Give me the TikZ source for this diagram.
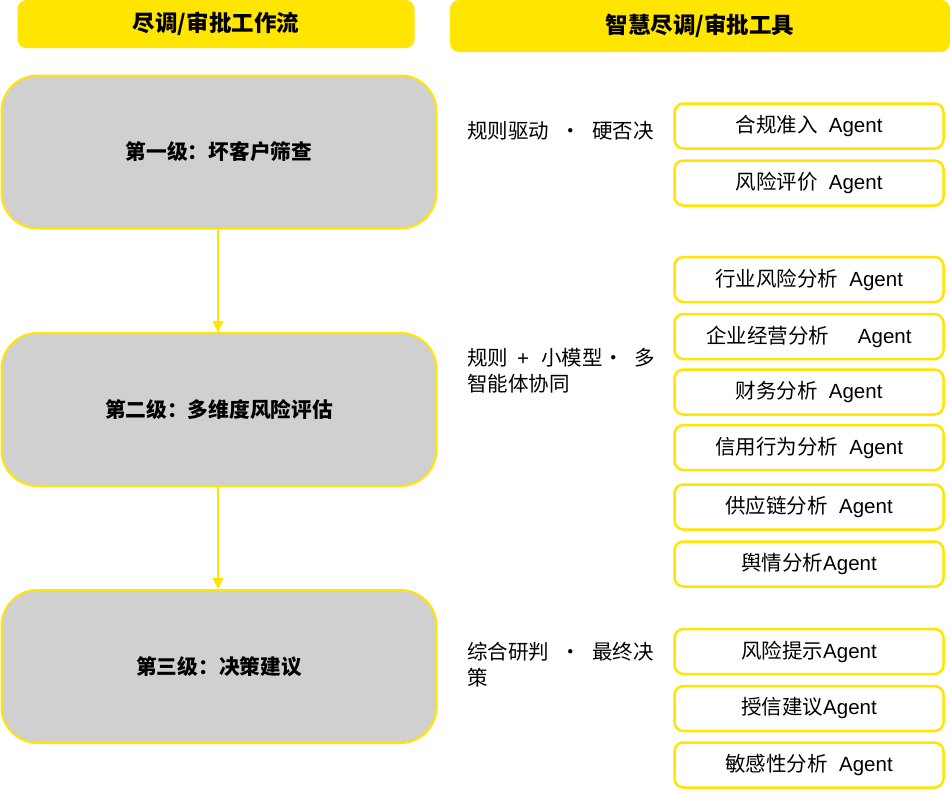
\documentclass[tikz,border=0pt]{standalone}
\usepackage{fontspec}
\setmainfont{Liberation Sans}
\newfontfamily\cjk{Noto Sans CJK SC}
\newfontfamily\latfont{Liberation Sans}
\usetikzlibrary{arrows.meta}
\definecolor{ey}{HTML}{FFE500}
\definecolor{lg}{HTML}{D0D0D0}
\newcommand\lat[1]{{\latfont #1}}
\newcommand\mdot{\makebox[6pt]{\cjk ·}}
\tikzset{
  header/.style={fill=ey, draw=none, rounded corners=9pt, inner sep=0pt, font=\cjk\bfseries\fontsize{22.5}{26}\selectfont},
  levelbox/.style={fill=lg, draw=ey, line width=2pt, rounded corners=36pt, minimum width=435pt, minimum height=153pt, inner sep=0pt, font=\cjk\bfseries\fontsize{20.7}{24}\selectfont},
  agentbox/.style={fill=white, draw=ey, line width=2.5pt, rounded corners=9pt, minimum width=269pt, minimum height=45pt, inner sep=0pt, font=\cjk\fontsize{20.5}{24}\selectfont},
  sidelabel/.style={anchor=north west, inner sep=0pt, align=left, font=\cjk\fontsize{20.5}{26}\selectfont},
  flow/.style={draw=ey, line width=1.6pt, -{Triangle[width=11pt,length=11pt]}}
}
\begin{document}
\begin{tikzpicture}[x=1pt,y=-1pt]
\useasboundingbox (0,0) rectangle (950,790);
% headers
\node[header, minimum width=397pt, minimum height=48pt] (h1) at (216,24) {尽调/审批工作流};
\node[header, minimum width=500pt, minimum height=52pt] (h2) at (700,26) {智慧尽调/审批工具};
% level boxes
\node[levelbox] (l1) at (219,152) {第一级：坏客户筛查};
\node[levelbox] (l2) at (219,409.5) {第二级：多维度风险评估};
\node[levelbox] (l3) at (219,666.5) {第三级：决策建议};
\draw[flow] (l1.south -| 218,0) -- (l2.north -| 218,0);
\draw[flow] (l2.south -| 218,0) -- (l3.north -| 218,0);
% side labels
\node[sidelabel] (s1) at (467,121) {规则驱动\hspace{19pt}\mdot\hspace{18pt}硬否决};
\node[sidelabel] (s2) at (467,348) {规则\hspace{9pt}\lat{+}\hspace{12pt}小模型\hspace{8pt}\mdot\hspace{18pt}多\\智能体协同};
\node[sidelabel] (s3) at (467,642) {综合研判\hspace{19pt}\mdot\hspace{18pt}最终决\\策};
% agents
\node[agentbox] (a1) at (809,126) {合规准入\lat{\ \ Agent}};
\node[agentbox] (a2) at (809,183) {风险评价\lat{\ \ Agent}};
\node[agentbox] (a3) at (809,279.5) {行业风险分析\lat{\ \ Agent}};
\node[agentbox] (a4) at (809,336.5) {企业经营分析\lat{\ \ \ \ \ Agent}};
\node[agentbox] (a5) at (809,392) {财务分析\lat{\ \ Agent}};
\node[agentbox] (a6) at (809,447.5) {信用行为分析\lat{\ \ Agent}};
\node[agentbox] (a7) at (809,507) {供应链分析\lat{\ \ Agent}};
\node[agentbox] (a8) at (809,564) {舆情分析\lat{Agent}};
\node[agentbox] (a9) at (809,651.5) {风险提示\lat{Agent}};
\node[agentbox] (a10) at (809,708.5) {授信建议\lat{Agent}};
\node[agentbox] (a11) at (809,765) {敏感性分析\lat{\ \ Agent}};
\end{tikzpicture}
\end{document}
